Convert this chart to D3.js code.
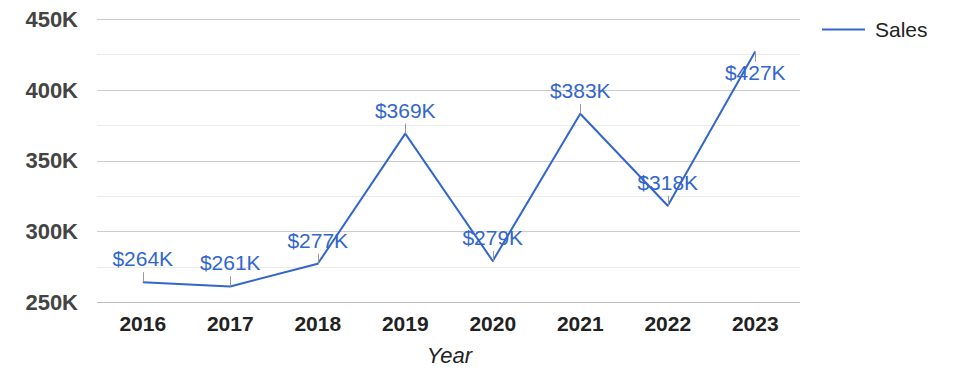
<!DOCTYPE html>
<html>
<head>
<meta charset="utf-8">
<script src="https://cdn.jsdelivr.net/npm/d3@7"></script>
<style>
  html, body { margin: 0; padding: 0; background: #fff; }
  svg { display: block; font-family: "Liberation Sans", Arial, sans-serif; }
</style>
</head>
<body>
<svg id="chart" width="975" height="378"></svg>
<script>
const years = ["2016", "2017", "2018", "2019", "2020", "2021", "2022", "2023"];
const sales = [264, 261, 277, 369, 279, 383, 318, 427]; // thousands of $
const yTicks = [250, 300, 350, 400, 450];
const yMinorTicks = [275, 325, 375, 425];
const seriesName = "Sales";
const xTitle = "Year";

const W = 975, H = 378;
const plot = { left: 97, right: 800, top: 19, bottom: 302 };
const blue = "#3366cc";

const svg = d3.select("#chart");

const x = d3.scalePoint().domain(years).range([99, 799]).padding(0.5);
const y = d3.scaleLinear().domain([250, 450]).range([plot.bottom, plot.top]);

// minor gridlines
svg.append("g").selectAll("line").data(yMinorTicks).join("line")
  .attr("x1", plot.left).attr("x2", plot.right)
  .attr("y1", d => Math.round(y(d)) + 0.5).attr("y2", d => Math.round(y(d)) + 0.5)
  .attr("stroke", "#ebebeb").attr("stroke-width", 1);

// major gridlines
svg.append("g").selectAll("line").data(yTicks).join("line")
  .attr("x1", plot.left).attr("x2", plot.right)
  .attr("y1", d => Math.round(y(d)) + 0.5).attr("y2", d => Math.round(y(d)) + 0.5)
  .attr("stroke", d => d === 250 ? "#bdbdbd" : "#cccccc").attr("stroke-width", 1);

// y tick labels
svg.append("g").selectAll("text").data(yTicks).join("text")
  .attr("x", 78).attr("y", d => y(d)).attr("dy", "0.36em")
  .attr("text-anchor", "end")
  .attr("font-size", 22).attr("font-weight", "bold").attr("fill", "#444")
  .text(d => d + "K");

// x tick labels
svg.append("g").selectAll("text").data(years).join("text")
  .attr("x", d => x(d)).attr("y", 331)
  .attr("text-anchor", "middle")
  .attr("font-size", 21).attr("font-weight", "bold").attr("fill", "#222")
  .text(d => d);

// x axis title
svg.append("text")
  .attr("x", (plot.left + plot.right) / 2 + 1).attr("y", 363)
  .attr("text-anchor", "middle")
  .attr("font-size", 22).attr("font-style", "italic").attr("fill", "#222")
  .text(xTitle);

// line
const line = d3.line().x((d, i) => x(years[i])).y(d => y(d));
svg.append("path").datum(sales)
  .attr("d", line)
  .attr("fill", "none").attr("stroke", blue).attr("stroke-width", 2)
  .attr("stroke-linejoin", "round");

// annotations
const stemLen = 10;
const ann = svg.append("g");
sales.forEach((v, i) => {
  const px = x(years[i]), py = y(v);
  const below = py - 40 < plot.top;
  const sy = below ? py + stemLen : py - stemLen;
  ann.append("line")
    .attr("x1", Math.round(px) + 0.5).attr("x2", Math.round(px) + 0.5)
    .attr("y1", py).attr("y2", sy)
    .attr("stroke", "#999").attr("stroke-width", 1);
  ann.append("text")
    .attr("x", px).attr("y", below ? sy + 18 : sy - 6)
    .attr("text-anchor", "middle")
    .attr("font-size", 21).attr("fill", blue)
    .text("$" + v + "K");
});

// legend
const lg = svg.append("g");
lg.append("line").attr("x1", 822).attr("x2", 865).attr("y1", 29.5).attr("y2", 29.5)
  .attr("stroke", blue).attr("stroke-width", 2);
lg.append("text").attr("x", 875).attr("y", 29.5).attr("dy", "0.36em")
  .attr("font-size", 21).attr("fill", "#222").text(seriesName);
</script>
</body>
</html>
